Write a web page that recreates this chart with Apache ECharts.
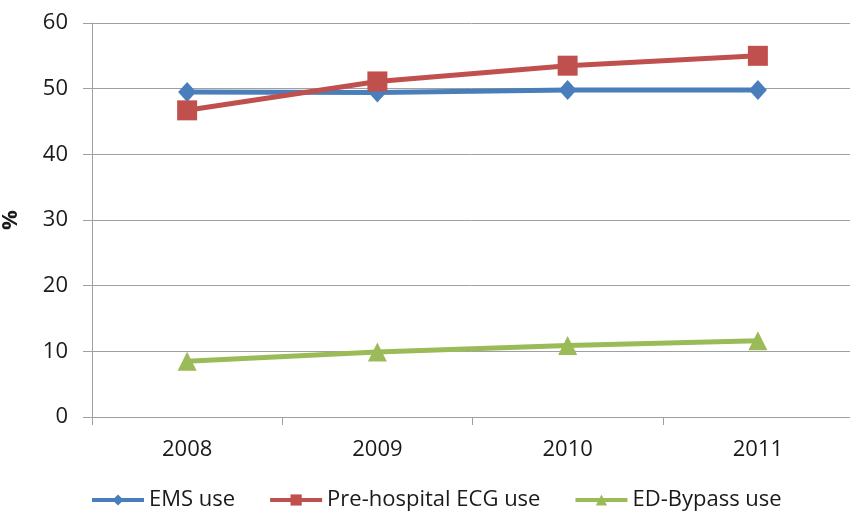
<!DOCTYPE html>
<html>
<head>
<meta charset="utf-8">
<script src="https://cdn.jsdelivr.net/npm/echarts@6/dist/echarts.min.js"></script>
<style>
html,body{margin:0;padding:0;background:#fff;}
#chart{width:850px;height:514px;}
</style>
</head>
<body>
<div id="chart"></div>
<script>
var years = ['2008', '2009', '2010', '2011'];
var emsUse = [49.5, 49.4, 49.8, 49.8];
var prehospitalEcgUse = [46.7, 51.1, 53.5, 55.0];
var edBypassUse = [8.5, 9.9, 10.9, 11.6];
var yTicks = { min: 0, max: 60, interval: 10 };

var font = '"Open Sans", "Liberation Sans", sans-serif';
var axisGray = '#a0a0a0';

var chart = echarts.init(document.getElementById('chart'), null, { renderer: 'canvas' });
chart.setOption({
  animation: false,
  backgroundColor: '#ffffff',
  grid: { left: 92, right: -3, top: 23, bottom: 97, containLabel: false, outerBoundsMode: 'none' },
  legend: {
    left: 90, top: 489, padding: 0,
    itemWidth: 52, itemHeight: 14, itemGap: 33,
    textStyle: { fontFamily: font, fontSize: 22, color: '#1a1a1a' },
    lineStyle: { width: 4 },
    data: ['EMS use', 'Pre-hospital ECG use', 'ED-Bypass use']
  },
  xAxis: {
    type: 'category',
    data: years,
    boundaryGap: true,
    axisLine: { show: true, lineStyle: { color: axisGray, width: 1 } },
    axisTick: { show: true, inside: false, length: 8, alignWithLabel: false, lineStyle: { color: axisGray } },
    axisLabel: { margin: 22, fontFamily: font, fontSize: 22, color: '#1a1a1a' },
    splitLine: { show: false }
  },
  yAxis: {
    type: 'value',
    min: yTicks.min, max: yTicks.max, interval: yTicks.interval,
    name: '%',
    nameLocation: 'middle',
    nameRotate: 90,
    nameGap: 70,
    nameTextStyle: { fontFamily: font, fontSize: 22, fontWeight: 'bold', color: '#1a1a1a' },
    axisLine: { show: true, lineStyle: { color: axisGray, width: 1 } },
    axisTick: { show: true, length: 9, lineStyle: { color: axisGray } },
    axisLabel: { margin: 24, fontFamily: font, fontSize: 22, color: '#1a1a1a' },
    splitLine: { show: true, lineStyle: { color: axisGray, width: 1 } }
  },
  series: [
    {
      name: 'EMS use', type: 'line', data: emsUse,
      symbol: 'diamond', symbolSize: [18, 20],
      lineStyle: { color: '#4a7ebb', width: 5 },
      itemStyle: { color: '#4a7ebb' },
      z: 3
    },
    {
      name: 'Pre-hospital ECG use', type: 'line', data: prehospitalEcgUse,
      symbol: 'rect', symbolSize: 20,
      lineStyle: { color: '#c0504d', width: 5 },
      itemStyle: { color: '#c0504d' },
      z: 4
    },
    {
      name: 'ED-Bypass use', type: 'line', data: edBypassUse,
      symbol: 'triangle', symbolSize: [19, 19],
      lineStyle: { color: '#9bbb59', width: 5 },
      itemStyle: { color: '#9bbb59' },
      z: 3
    }
  ]
});
</script>
</body>
</html>
